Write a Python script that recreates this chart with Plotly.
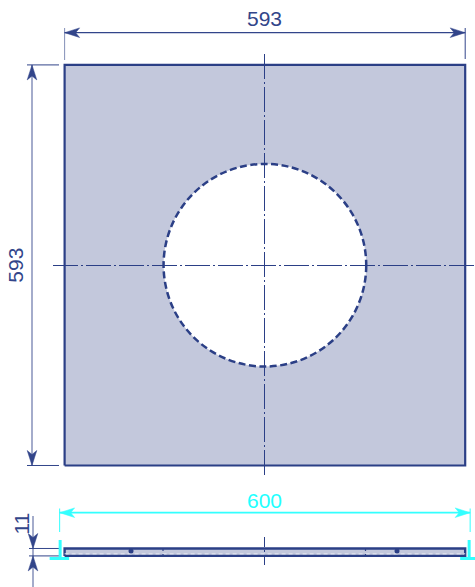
import plotly.graph_objects as go

# Values (mm)
plate_size = [593, 593]
overall_width = [600]
thickness = [11]
hole_diameter = [300]
dimension_labels = ["593", "593", "600", "11"]

NAVY = "#2b3f86"
DIM = "#32458a"
FILL = "#c3c8dc"
CYAN = "#33ffff"
K = 0.6755            # px per mm
W, H = 475, 587
CX, CY = 264.9, 265.2  # plate centre, px


def p(v):
    return v / K


xr = [-CX / K, (W - CX) / K]
yr = [CY / K, (CY - H) / K]
S = plate_size[0] / 2
SIDE = p(CY - 552.2)      # side-view centre (negative: below the plate centre)
T = thickness[0] / 2
O = overall_width[0] / 2 + p(2.6)
R = hole_diameter[0] / 2
VX = p(264.5 - CX)        # centre lines, aligned to the pixel grid
HY = p(CY - 265.5)

fig = go.Figure()


def line(xs, ys, color=DIM, width=1.3, dash=None, opacity=1):
    fig.add_trace(go.Scatter(x=xs, y=ys, mode="lines", opacity=opacity,
                             line=dict(color=color, width=width, dash=dash),
                             hoverinfo="skip", showlegend=False))


def arrow(x, y, dx, dy, color=DIM):
    """barbed arrowhead with its tip at x,y pointing along dx,dy"""
    L, B, N = 15 / K, 4.8 / K, 11 / K
    px, py = -dy, dx
    xs = [x, x - dx * L + px * B, x - dx * N, x - dx * L - px * B, x]
    ys = [y, y - dy * L + py * B, y - dy * N, y - dy * L - py * B, y]
    fig.add_trace(go.Scatter(x=xs, y=ys, mode="lines", fill="toself", fillcolor=color,
                             line=dict(color=color, width=0.5),
                             hoverinfo="skip", showlegend=False))


def text(x, y, s, color=DIM, angle=0):
    fig.add_annotation(x=x, y=y, text=s, showarrow=False, textangle=angle,
                       font=dict(family="Liberation Sans, Arial", size=21, color=color))


# Plate
line([-S, S, S, -S, -S], [-S, -S, S, S, -S], color=NAVY, width=2.2)
fig.data[-1].update(fill="toself", fillcolor=FILL)

# Hole
fig.add_shape(type="circle", xref="x", yref="y", x0=-R, x1=R, y0=-R, y1=R,
              fillcolor="white", line=dict(color=NAVY, width=2.5, dash="7px,3.5px"), layer="above")

CENTER_DASH = "25px,3px,2px,3px"
# centre lines
fig.add_shape(type="line", xref="x", yref="y", x0=p(53 - CX), x1=p(475 - CX), y0=HY, y1=HY,
              line=dict(color=NAVY, width=1, dash=CENTER_DASH), layer="above")
fig.add_shape(type="line", xref="x", yref="y", x0=VX, x1=VX, y0=p(CY - 54), y1=p(CY - 477),
              line=dict(color=NAVY, width=1, dash=CENTER_DASH), layer="above")

# Top dimension
ty = p(CY - 32.7)
line([-S, S], [ty, ty])
line([-S, -S], [p(CY - 28), p(CY - 60)], width=1, opacity=0.6)
line([S, S], [p(CY - 28), p(CY - 59)], width=1)
arrow(-S, ty, -1, 0)
arrow(S, ty, 1, 0)
text(0, p(CY - 18), dimension_labels[0])

# Left dimension
lx = p(32 - CX)
line([lx, lx], [-S, S], width=1.6, opacity=0.55)
line([p(27 - CX), p(59 - CX)], [S, S], width=1)
line([p(27 - CX), p(59 - CX)], [-S, -S], width=1)
arrow(lx, S, 0, 1)
arrow(lx, -S, 0, -1)
text(p(15.5 - CX), 0, dimension_labels[1], angle=-90)

# Side view
sy0, sy1 = SIDE - T, SIDE + T
line([-S, S, S, -S, -S], [sy0, sy0, sy1, sy1, sy0], color=NAVY, width=2.4)
fig.data[-1].update(fill="toself", fillcolor=FILL)
line([-S, S], [SIDE - p(1.6), SIDE - p(1.6)], color="#e4e6f0", width=1, dash="4px,3px")
fig.add_shape(type="line", xref="x", yref="y", x0=VX, x1=VX, y0=p(CY - 537), y1=p(CY - 568),
              line=dict(color=NAVY, width=1, dash="10px,3px,2px,3px"), layer="above")
fig.add_trace(go.Scatter(x=[p(131 - CX), p(397 - CX)], y=[SIDE + p(1.2), SIDE + p(1.2)], mode="markers",
                         marker=dict(color=NAVY, size=5), hoverinfo="skip", showlegend=False))
for px_ in (163, 365.5):
    line([p(px_ - CX), p(px_ - CX)], [sy0, sy1], color=NAVY, width=1.2, dash="2px,3px")

# Thickness dimension
dx = p(33 - CX)
line([dx, dx], [p(CY - 516), p(CY - 587)], width=1.6, opacity=0.55)
line([p(29 - CX), p(60 - CX)], [sy0, sy0], width=1)
line([p(29 - CX), p(60 - CX)], [sy1, sy1], width=1)
arrow(dx, sy1, 0, -1)
arrow(dx, sy0, 0, 1)
text(p(21 - CX), p(CY - 523.5), dimension_labels[3], angle=-90)

# Overall width (cyan)
oy = p(CY - 512.7)
line([-O, O], [oy, oy], color=CYAN, width=1.8)
line([-O, -O], [p(CY - 508.5), p(CY - 532)], color=CYAN, width=1)
line([O, O], [p(CY - 508.5), p(CY - 532)], color=CYAN, width=1)
arrow(-O, oy, -1, 0, color=CYAN)
arrow(O, oy, 1, 0, color=CYAN)
text(0, p(CY - 500), dimension_labels[2], color="#22ffff")
by = p(CY - 558.5)
line([-O + p(0.5), -O + p(0.5)], [p(CY - 540), by], color=CYAN, width=3)
line([-O - p(10), -O + p(9.5)], [by, by], color=CYAN, width=3)
line([O - p(1), O - p(1)], [p(CY - 540), by], color=CYAN, width=3)
line([O - p(10), O + p(6)], [by, by], color=CYAN, width=3)

fig.update_layout(width=W, height=H, margin=dict(l=0, r=0, t=0, b=0),
                  paper_bgcolor="white", plot_bgcolor="white", showlegend=False,
                  xaxis=dict(range=xr, visible=False, fixedrange=True),
                  yaxis=dict(range=[yr[1], yr[0]], visible=False, fixedrange=True))
fig.write_html("out.html", config={"displayModeBar": False},
               post_script="document.body.style.margin='0';")
